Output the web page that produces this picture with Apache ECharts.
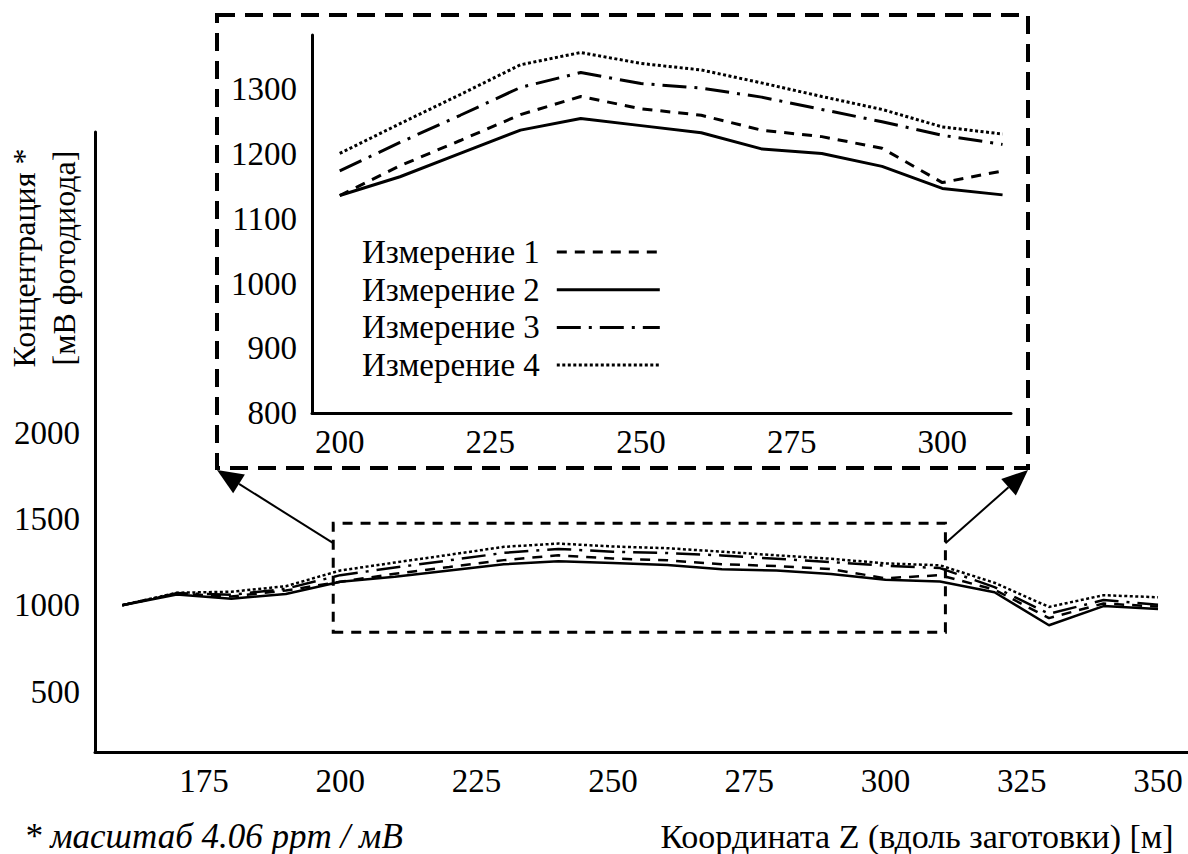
<!DOCTYPE html>
<html><head><meta charset="utf-8">
<script src="https://cdn.jsdelivr.net/npm/echarts@6/dist/echarts.min.js"></script>
<style>html,body{margin:0;padding:0;background:#fff}#c{width:1188px;height:854px}</style>
</head><body><div id="c"></div><script>
// ---- data ----
const coordZ = [160,170,180,190,200,210,220,230,240,250,260,270,280,290,300,310,320,330,340,350];
const izm1 = [1000,1068,1050,1085,1136,1182,1221,1261,1289,1270,1260,1237,1227,1209,1156,1174,1090,925,1010,992];
const izm2 = [1000,1062,1038,1065,1136,1165,1201,1237,1255,1244,1233,1208,1201,1181,1147,1137,1075,884,995,978];
const izm3 = [1000,1070,1060,1095,1174,1218,1260,1303,1326,1309,1302,1288,1269,1250,1229,1215,1105,950,1030,1002];
const izm4 = [1000,1072,1078,1110,1201,1247,1292,1338,1357,1340,1330,1310,1289,1269,1242,1231,1130,990,1058,1046];
const seriesNames = ['Измерение 1','Измерение 2','Измерение 3','Измерение 4'];
const mainXTicks = [175,200,225,250,275,300,325,350];
const mainYTicks = [500,1000,1500,2000];
const insetXTicks = [200,225,250,275,300];
const insetYTicks = [800,900,1000,1100,1200,1300];
const insetRange = [200,310];
const zoomBox = [[198.7, 844],[311, 1475]];
const yTitle = 'Концентрация *\n[мВ фотодиода]';
const xTitle = 'Координата Z (вдоль заготовки) [м]';
const footnote = '* масштаб 4.06 ppm / мВ';

// ---- styles ----
const FONT = "'Liberation Serif', 'DejaVu Serif', serif";
const styles = [
  {type:[10,8], width:3},
  {type:'solid', width:3},
  {type:[24,8,3,8], width:3},
  {type:[3,2.5], width:3}
];
const allData = [izm1, izm2, izm3, izm4];

const chart = echarts.init(document.getElementById('c'), null, {renderer:'svg'});

function pairs(arr, range){
  const out = [];
  coordZ.forEach((z,i)=>{ if(!range || (z>=range[0] && z<=range[1])) out.push([z, arr[i]]); });
  return out;
}

const series = [];
allData.forEach((d,i)=>{
  series.push({
    type:'line', name:seriesNames[i], xAxisIndex:0, yAxisIndex:0,
    data:pairs(d), symbol:'none', silent:true, color:'#000',
    lineStyle:{color:'#000', width:2.5, type:styles[i].type}
  });
});
allData.forEach((d,i)=>{
  series.push({
    type:'line', name:seriesNames[i], xAxisIndex:1, yAxisIndex:1,
    data:pairs(d, insetRange), symbol:'none', silent:true, color:'#000',
    lineStyle:{color:'#000', width:styles[i].width, type:styles[i].type}
  });
});
// dashed zoom box in the main chart
series[1].markArea = {
  silent:true,
  itemStyle:{color:'rgba(0,0,0,0)', borderColor:'#000', borderWidth:3, borderType:[10,8]},
  data:[[{coord:zoomBox[0]},{coord:zoomBox[1]}]]
};

const axisLineStyle = {show:true, lineStyle:{color:'#000', width:3}};
const labelStyle = {color:'#000', fontFamily:FONT, fontSize:33, formatter:v=>String(v)};

const option = {
  animation:false,
  backgroundColor:'#fff',
  grid:[
    {left:95, top:132, right:0, bottom:102},
    {left:312, top:35, width:699, height:378}
  ],
  xAxis:[
    {type:'value', gridIndex:0, min:155, max:355.5,
     axisLine:axisLineStyle, axisTick:{show:false}, splitLine:{show:false},
     axisLabel:Object.assign({customValues:mainXTicks, margin:12}, labelStyle)},
    {type:'value', gridIndex:1, min:195.4, max:311.4,
     axisLine:axisLineStyle, axisTick:{show:false}, splitLine:{show:false},
     axisLabel:Object.assign({customValues:insetXTicks, margin:12}, labelStyle)}
  ],
  yAxis:[
    {type:'value', gridIndex:0, min:150, max:3740,
     axisLine:axisLineStyle, axisTick:{show:false}, splitLine:{show:false},
     axisLabel:Object.assign({customValues:mainYTicks, margin:15}, labelStyle)},
    {type:'value', gridIndex:1, min:800, max:1384,
     axisLine:axisLineStyle, axisTick:{show:false}, splitLine:{show:false},
     axisLabel:Object.assign({customValues:insetYTicks, margin:15}, labelStyle)}
  ],
  legend:{
    data:seriesNames, orient:'vertical', left:357, top:229, align:'right',
    itemWidth:103, itemHeight:14, itemGap:1.7,
    itemStyle:{opacity:0, borderWidth:0},
    lineStyle:{opacity:1, width:3},
    textStyle:{color:'#000', fontFamily:FONT, fontSize:33, lineHeight:36, padding:[0,12,0,0]},
    selectedMode:false
  },
  series:series
};
chart.setOption(option);

// ---- decorations: inset frame and arrows ----
const frame = {x:217, y:15, w:811, h:453};
const boxTopLeft = chart.convertToPixel({gridIndex:0}, [zoomBox[0][0], 1359]);
const boxTopRight = chart.convertToPixel({gridIndex:0}, [zoomBox[1][0], 1359]);
function arrow(from, to){
  const dx = to[0]-from[0], dy = to[1]-from[1];
  const len = Math.sqrt(dx*dx+dy*dy), ux = dx/len, uy = dy/len;
  const L = 26, W = 11;
  const bx = to[0]-ux*L, by = to[1]-uy*L;
  return [
    {type:'line', shape:{x1:from[0], y1:from[1], x2:bx, y2:by}, style:{stroke:'#000', lineWidth:2}, silent:true},
    {type:'polygon', shape:{points:[[to[0],to[1]],[bx-uy*W, by+ux*W],[bx+uy*W, by-ux*W]]}, style:{fill:'#000'}, silent:true}
  ];
}
const graphics = [
  {type:'rect', shape:{x:frame.x, y:frame.y, width:frame.w, height:frame.h},
   style:{fill:'none', stroke:'#000', lineWidth:4, lineDash:[18,10]}, silent:true, z:-1},
  ...arrow(boxTopLeft, [frame.x, frame.y+frame.h+2]),
  ...arrow(boxTopRight, [frame.x+frame.w, frame.y+frame.h+2]),
  {type:'text', x:44, y:258, rotation:Math.PI/2,
   style:{text:yTitle, fill:'#000', font:"32px " + FONT, lineHeight:40, align:'center', verticalAlign:'middle'}, silent:true},
  {type:'text', x:24, y:836,
   style:{text:footnote, fill:'#000', font:"italic 35px " + FONT, align:'left', verticalAlign:'middle'}, silent:true},
  {type:'text', x:917, y:836,
   style:{text:xTitle, fill:'#000', font:"34px " + FONT, align:'center', verticalAlign:'middle'}, silent:true}
];
chart.setOption({graphic:{elements:graphics}});
</script></body></html>
